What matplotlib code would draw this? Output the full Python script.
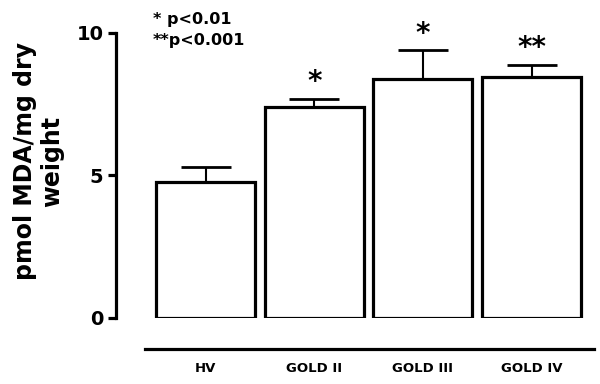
import matplotlib.pyplot as plt
import numpy as np

groups = ["HV", "GOLD II", "GOLD III", "GOLD IV"]
means = [4.77, 7.4, 8.39, 8.46]
sem = [0.53, 0.28, 1.0, 0.42]
stars = ["", "*", "*", "**"]

plt.rcParams["font.weight"] = "bold"

fig = plt.figure(figsize=(6, 3.84), dpi=100)
ax = fig.add_axes([0.2417, 0.1719, 0.7483, 0.8164])

x = np.arange(len(groups))
ax.bar(x, means, width=0.91, color="white", edgecolor="black", linewidth=2.3, zorder=2)
ax.errorbar(x, means, yerr=[np.zeros(len(sem)), sem], fmt="none", ecolor="black",
            elinewidth=1.5, capsize=18, capthick=2.0, zorder=1)

for xi, m, e, s in zip(x, means, sem, stars):
    if s:
        ax.text(xi, m + e + 0.1, s, ha="center", va="bottom", fontsize=20,
                fontweight="bold", clip_on=False)

ax.text(0.018, 0.975, "* p<0.01\n**p<0.001", transform=ax.transAxes, ha="left", va="top",
        fontsize=11.5, fontweight="bold", linespacing=1.45)

ax.set_xlim(-0.557, 3.575)
ax.set_ylim(0, 11)
ax.set_yticks([0, 5, 10])
ax.set_xticks(x)
ax.set_xticklabels(groups)
ax.tick_params(axis="y", labelsize=14, width=2.3, length=6, pad=3)
ax.tick_params(axis="x", labelsize=9.5, length=0, pad=9)

ax.spines["top"].set_visible(False)
ax.spines["right"].set_visible(False)
ax.spines["left"].set_position(("outward", 21))
ax.spines["left"].set_bounds(0, 10)
ax.spines["left"].set_linewidth(2.3)
ax.spines["bottom"].set_position(("outward", 22.5))
ax.spines["bottom"].set_linewidth(2.3)

ax.set_ylabel("pmol MDA/mg dry\nweight", fontsize=17, fontweight="bold", labelpad=9,
              linespacing=1.15)

fig.savefig("out.png", dpi=100)
